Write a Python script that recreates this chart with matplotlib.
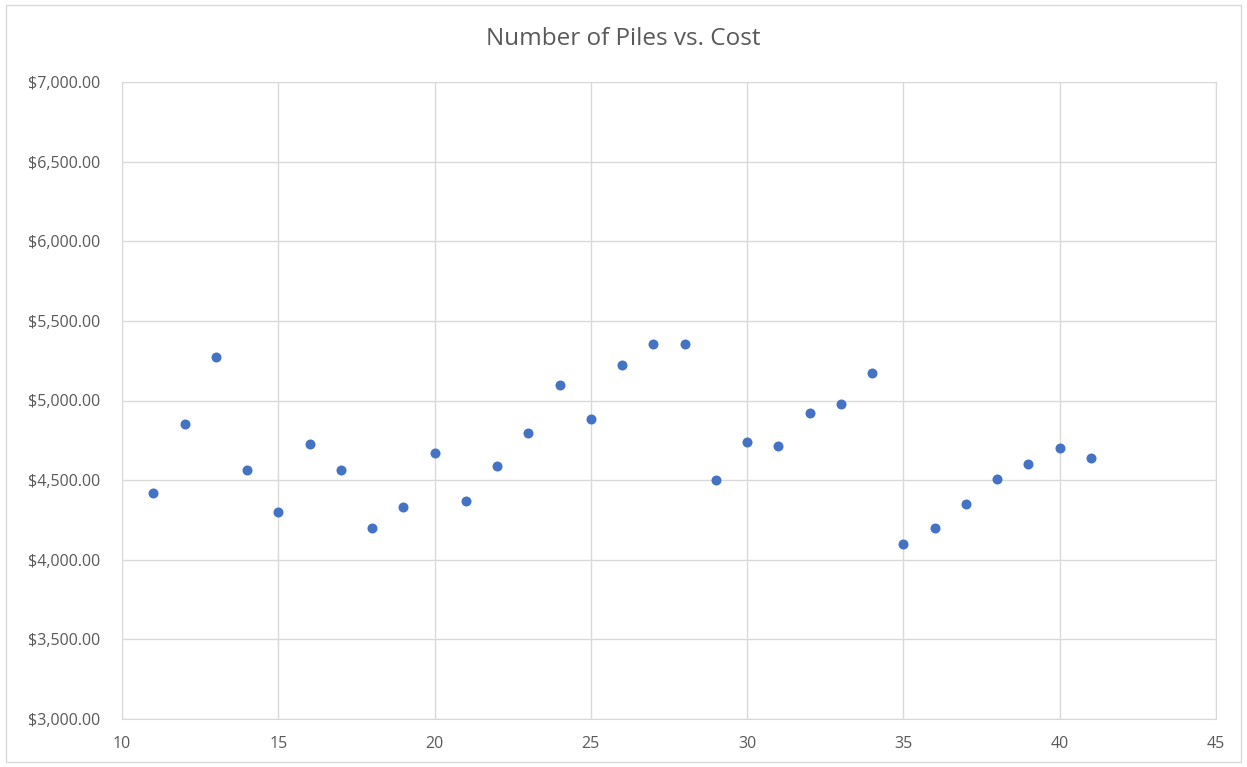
import matplotlib.pyplot as plt
from matplotlib.patches import Rectangle
from matplotlib.ticker import FuncFormatter, MultipleLocator

piles = list(range(11, 42))
cost = [4420, 4850, 5275, 4563, 4300, 4727, 4563, 4200, 4331, 4670,
        4369, 4589, 4796, 5097, 4884, 5223, 5355, 5355, 4501, 4739,
        4714, 4921, 4978, 5173, 4099, 4200, 4350, 4507, 4601, 4702, 4639]

plt.rcParams["font.family"] = ["Open Sans", "DejaVu Sans"]
txt = "#595959"
grid = "#D9D9D9"

fig = plt.figure(figsize=(12.47, 7.67), dpi=100)
fig.patches.append(Rectangle((0.005, 0.006), 0.99, 0.988, transform=fig.transFigure,
                             fill=False, edgecolor=grid, linewidth=1))
ax = fig.add_axes([122 / 1247, 1 - 719 / 767, (1216 - 122) / 1247, (719 - 82) / 767])

ax.scatter(piles, cost, s=52, color="#4472C4", zorder=3, linewidths=0)

ax.set_xlim(10, 45)
ax.set_ylim(3000, 7000)
ax.xaxis.set_major_locator(MultipleLocator(5))
ax.yaxis.set_major_locator(MultipleLocator(500))
ax.yaxis.set_major_formatter(FuncFormatter(lambda v, p: f"${v:,.2f}"))
ax.grid(True, color=grid, linewidth=1)
ax.set_axisbelow(True)
for s in ax.spines.values():
    s.set_color(grid)
ax.tick_params(length=0, labelsize=11.5, colors=txt)
ax.tick_params(axis="y", pad=16)
ax.tick_params(axis="x", pad=12)

fig.text(0.5, 1 - 39 / 767, "Number of Piles vs. Cost", ha="center", va="center",
         fontsize=17.5, color=txt)

fig.savefig("out.png", dpi=100)
